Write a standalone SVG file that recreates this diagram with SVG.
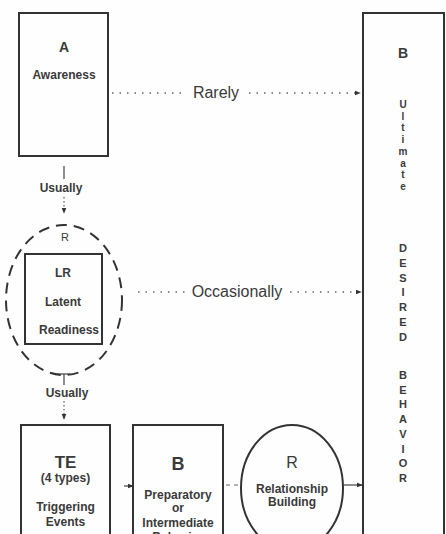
<svg xmlns="http://www.w3.org/2000/svg" width="446" height="534" viewBox="0 0 446 534">
<style>
  .box{fill:none;stroke:#333;stroke-width:2}
  .t{font-family:"Liberation Sans",Arial,sans-serif;fill:#3a3a3a;text-anchor:middle}
  .b{font-weight:bold}
  .dot{stroke:#666;stroke-width:1.3;fill:none;stroke-dasharray:1.5 6}
  .dash{stroke:#666;stroke-width:1.2;fill:none;stroke-dasharray:4 4}
  .sol{stroke:#444;stroke-width:1.2;fill:none}
</style>
<defs>
  <marker id="ah" viewBox="0 0 8 8" refX="7" refY="4" markerWidth="6" markerHeight="6" orient="auto" markerUnits="userSpaceOnUse">
    <path d="M0,0.8 L8,4 L0,7.2 z" fill="#333"/>
  </marker>
</defs>
<rect width="446" height="534" fill="#fefefe"/>

<g id="node-A">
  <rect class="box" x="19" y="13" width="89" height="143"/>
  <text class="t b" x="64" y="52" font-size="14">A</text>
  <text class="t b" x="64" y="79" font-size="12">Awareness</text>
</g>

<g id="node-B-ultimate">
  <rect class="box" x="363" y="13" width="81" height="545"/>
  <text class="t b" x="403" y="58" font-size="14">B</text>
  <text class="t b" font-size="10">
    <tspan x="403" y="108">U</tspan><tspan x="403" y="120">l</tspan><tspan x="403" y="131">t</tspan><tspan x="403" y="143">i</tspan><tspan x="403" y="155">m</tspan><tspan x="403" y="167">a</tspan><tspan x="403" y="178">t</tspan><tspan x="403" y="190">e</tspan>
  </text>
  <text class="t b" font-size="11">
    <tspan x="403" y="252">D</tspan><tspan x="403" y="267">E</tspan><tspan x="403" y="281.6">S</tspan><tspan x="403" y="296.4">I</tspan><tspan x="403" y="311.2">R</tspan><tspan x="403" y="326">E</tspan><tspan x="403" y="340.8">D</tspan>
  </text>
  <text class="t b" font-size="11">
    <tspan x="403" y="379">B</tspan><tspan x="403" y="393.7">E</tspan><tspan x="403" y="408.4">H</tspan><tspan x="403" y="423.1">A</tspan><tspan x="403" y="437.8">V</tspan><tspan x="403" y="452.5">I</tspan><tspan x="403" y="467.2">O</tspan><tspan x="403" y="482">R</tspan>
  </text>
</g>

<g id="node-R-readiness">
  <ellipse cx="64" cy="300" rx="58" ry="75" fill="none" stroke="#333" stroke-width="2" stroke-dasharray="11 7"/>
  <text class="t" x="65" y="241" font-size="11">R</text>
</g>

<g id="node-LR">
  <rect class="box" x="25" y="254" width="77" height="90"/>
  <text class="t b" x="63" y="277" font-size="12">LR</text>
  <text class="t b" x="63" y="306" font-size="12">Latent</text>
  <text class="t b" x="69" y="334" font-size="12">Readiness</text>
</g>

<g id="node-TE">
  <rect class="box" x="21" y="425" width="89" height="130"/>
  <text class="t b" x="65.5" y="468" font-size="17">TE</text>
  <text class="t b" x="65.5" y="482" font-size="12">(4 types)</text>
  <text class="t b" x="65.5" y="511" font-size="12">Triggering</text>
  <text class="t b" x="65.5" y="526" font-size="12">Events</text>
</g>

<g id="node-B-preparatory">
  <rect class="box" x="133" y="425" width="90" height="130"/>
  <text class="t b" x="178" y="470" font-size="18">B</text>
  <text class="t b" x="178" y="499" font-size="12">Preparatory</text>
  <text class="t b" x="178" y="512" font-size="12">or</text>
  <text class="t b" x="178" y="527" font-size="12">Intermediate</text>
  <text class="t b" x="178" y="541" font-size="12">Behavior</text>
</g>

<g id="node-R-relationship">
  <ellipse cx="292" cy="488" rx="51" ry="63" fill="none" stroke="#333" stroke-width="2"/>
  <text class="t" x="292" y="468" font-size="16">R</text>
  <text class="t b" x="292" y="493" font-size="12">Relationship</text>
  <text class="t b" x="292" y="506" font-size="12">Building</text>
</g>

<g id="connectors">
  <line class="dot" x1="112" y1="93" x2="186" y2="93"/>
  <text class="t" x="216" y="98" font-size="16">Rarely</text>
  <line class="dot" x1="249" y1="93" x2="360" y2="93" marker-end="url(#ah)"/>

  <line class="dot" x1="138" y1="292" x2="186" y2="292"/>
  <text class="t" x="237" y="297" font-size="16">Occasionally</text>
  <line class="dot" x1="290" y1="292" x2="361" y2="292" marker-end="url(#ah)"/>

  <line class="sol" x1="64" y1="166" x2="64" y2="179"/>
  <text class="t b" x="61" y="192" font-size="12">Usually</text>
  <line class="dot" x1="64" y1="197" x2="64" y2="213" marker-end="url(#ah)" style="stroke-dasharray:1.5 2.5"/>

  <line class="sol" x1="56" y1="374" x2="70" y2="374"/>
  <line class="sol" x1="64" y1="374" x2="64" y2="385"/>
  <text class="t b" x="67" y="397" font-size="12">Usually</text>
  <line class="dot" x1="64" y1="401" x2="64" y2="419" marker-end="url(#ah)" style="stroke-dasharray:1.5 2.5"/>

  <line class="sol" x1="124" y1="486" x2="133" y2="486" marker-end="url(#ah)"/>
  <line class="dash" x1="226" y1="485" x2="242" y2="485"/>
  <line class="sol" x1="343" y1="485" x2="362" y2="485" marker-end="url(#ah)"/>
</g>
</svg>
